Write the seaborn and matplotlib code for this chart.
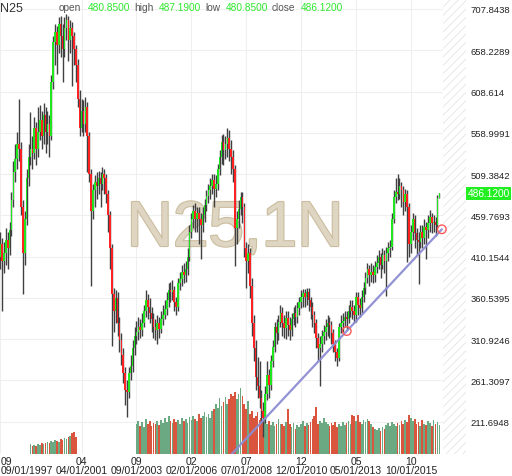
import numpy as np
import pandas as pd
import matplotlib
matplotlib.use("Agg")
import matplotlib.pyplot as plt
import matplotlib.dates as mdates
import matplotlib.patheffects as pe
import seaborn as sns

# ---------------- data ----------------
symbol = "N25"
watermark = "N25,1N"
first_month = "1997-09-01"
first_open = 410

close = [
    425, 405, 415, 430, 420, 442, 478, 512, 528, 545,
    540, 470, 415, 455, 505, 530, 540, 535, 565, 540,
    560, 575, 555, 580, 560, 570, 555, 620, 668, 680,
    665, 690, 675, 660, 685, 695, 670, 685, 675, 660,
    640, 600, 565, 585, 570, 590, 555, 510, 465, 490,
    500, 495, 505, 498, 510, 505, 485, 460, 420, 365,
    345, 360, 330, 310, 292, 270, 250, 248, 270, 279,
    300, 315, 320, 325, 322, 330, 345, 358, 350, 342,
    335, 325, 322, 330, 323, 335, 340, 347, 358, 370,
    368, 370, 355, 350, 378, 383, 392, 388, 395, 410,
    440, 455, 465, 455, 462, 455, 448, 460, 472, 483,
    490, 495, 502, 492, 498, 515, 530, 548, 538, 545,
    553, 540, 530, 515, 445, 455, 468, 482, 470, 420,
    405, 415, 375, 330, 300, 265, 255, 240, 225, 216,
    245, 268, 256, 285, 302, 325, 318, 332, 342, 330,
    324, 336, 328, 322, 335, 342, 338, 348, 355, 362,
    366, 362, 368, 358, 350, 340, 330, 312, 300, 305,
    315, 320, 326, 330, 328, 318, 305, 295, 288, 325,
    330, 333, 338, 335, 345, 350, 345, 340, 362, 352,
    348, 362, 373, 385, 395, 388, 392, 388, 398, 403,
    410, 400, 412, 405, 415, 420, 422, 455, 482, 488,
    486, 495, 490, 476, 485, 470, 425, 440, 455, 438,
    430, 428, 440, 432, 446, 442, 450, 458, 450, 452,
    448, 480.85, 486.12,
]
high = [
    440, 432, 428, 445, 440, 452, 488, 525, 545, 560,
    600, 548, 478, 465, 515, 545, 584, 555, 578, 572,
    590, 592, 585, 595, 590, 585, 580, 628, 675, 690,
    688, 698, 700, 690, 698, 702, 700, 695, 692, 680,
    665, 648, 610, 600, 598, 602, 596, 560, 515, 498,
    508, 512, 513, 512, 518, 515, 510, 490, 465, 425,
    372, 370, 368, 338, 318, 300, 278, 262, 278, 292,
    310, 325, 333, 338, 335, 342, 352, 370, 365, 360,
    350, 342, 335, 340, 338, 345, 352, 358, 368, 378,
    380, 382, 375, 362, 385, 392, 400, 402, 405, 420,
    448, 462, 472, 475, 470, 470, 462, 470, 480, 490,
    498, 505, 510, 510, 508, 522, 538, 556, 558, 555,
    565, 562, 550, 538, 520, 465, 478, 488, 488, 475,
    428, 425, 420, 385, 340, 310, 290, 285, 250, 235,
    255, 285, 275, 292, 310, 332, 335, 340, 352, 350,
    340, 345, 345, 338, 342, 350, 352, 356, 362, 370,
    371, 371, 372, 372, 362, 355, 345, 335, 318, 315,
    322, 328, 335, 340, 338, 333, 323, 310, 300, 330,
    340, 342, 345, 345, 352, 358, 358, 352, 368, 368,
    360, 370, 380, 392, 402, 400, 402, 400, 405, 412,
    418, 415, 420, 418, 422, 428, 430, 462, 490, 505,
    509, 505, 500, 495, 492, 490, 475, 448, 462, 460,
    445, 440, 448, 448, 455, 452, 460, 466, 462, 460,
    458, 484, 487.19,
]
low = [
    395, 345, 390, 400, 395, 412, 435, 470, 500, 515,
    525, 460, 365, 400, 448, 495, 520, 515, 528, 520,
    530, 550, 540, 545, 535, 545, 530, 550, 612, 640,
    630, 655, 650, 620, 650, 670, 645, 655, 615, 640,
    620, 590, 555, 560, 555, 560, 512, 500, 375, 455,
    470, 480, 485, 470, 490, 485, 475, 440, 395, 303,
    320, 330, 315, 295, 280, 258, 232, 217, 240, 262,
    272, 292, 305, 310, 312, 315, 325, 338, 335, 330,
    320, 312, 310, 305, 312, 318, 328, 335, 340, 350,
    355, 358, 345, 340, 345, 370, 375, 378, 380, 388,
    405, 432, 445, 440, 440, 425, 407, 440, 452, 465,
    475, 480, 485, 470, 482, 490, 508, 522, 520, 528,
    530, 525, 510, 500, 399, 425, 445, 460, 450, 410,
    373, 390, 360, 315, 285, 250, 240, 228, 210, 193,
    210, 238, 240, 250, 278, 295, 305, 310, 325, 315,
    312, 311, 315, 310, 315, 328, 325, 330, 340, 348,
    350, 350, 352, 345, 335, 325, 318, 300, 285, 255,
    295, 305, 310, 315, 312, 305, 295, 285, 279, 285,
    318, 320, 325, 322, 330, 338, 335, 330, 331, 340,
    338, 342, 355, 365, 378, 375, 380, 378, 380, 390,
    395, 385, 395, 390, 363, 405, 410, 418, 450, 475,
    478, 480, 470, 460, 465, 404, 410, 415, 430, 420,
    412, 377, 420, 420, 425, 407, 432, 440, 438, 440,
    435, 445, 480.85,
]

vol1_start = "1999-01-01"
vol1 = [10, 8, 9, 8, 10, 9, 11, 10, 11, 12, 11, 13, 12, 14, 13, 12, 15, 14,
        16, 15, 17, 18, 21, 22, 17]
vol2_start = "2003-09-01"
vol2 = [
    30, 33, 28, 32, 27, 35, 30, 33, 28, 31,
    30, 33, 29, 34, 31, 36, 32, 38, 33, 31,
    35, 32, 34, 30, 36, 33, 35, 31, 37, 34,
    38, 35, 33, 40, 36, 38, 42, 37, 40, 36,
    43, 45, 50, 46, 56, 48, 52, 57, 50, 55,
    60, 58, 62, 55, 60, 66, 58, 50, 45, 53,
    40, 43, 36, 38, 42, 34, 36, 32, 35, 30,
    33, 29, 32, 28, 30, 35, 30, 30, 28, 32,
    45, 30, 27, 31, 25, 29, 27, 30, 33, 28,
    31, 29, 32, 35, 38, 47, 30, 33, 31, 36,
    32, 30, 28, 31, 29, 32, 27, 30, 28, 32,
    29, 31, 33, 30, 39, 38, 33, 39, 32, 30,
    34, 32, 35, 33, 30, 27, 25, 24, 26, 23,
    27, 25, 29, 31, 28, 32, 30, 28, 31, 29,
    33, 30, 34, 32, 39, 36, 33, 35, 30, 32,
    28, 34, 30, 29, 33, 31, 28, 34, 30, 32,
    29,
]

x_tick_dates = ["1997-09-01", "2001-04-01", "2003-09-01", "2006-02-01",
                "2008-07-01", "2010-12-01", "2013-05-01", "2015-10-01"]
x_tick_labels = ["09\n09/01/1997", "04\n04/01/2001", "09\n09/01/2003",
                 "02\n02/01/2006", "07\n07/01/2008", "12\n12/01/2010",
                 "05\n05/01/2013", "10\n10/01/2015"]
y_ticks = [211.6948, 261.3097, 310.9246, 360.5395, 410.1544, 459.7693,
           509.3842, 558.9991, 608.614, 658.2289, 707.8438]
y_tick_labels = ["211.6948", "261.3097", "310.9246", "360.5395", "410.1544",
                 "459.7693", "509.3842", "558.9991", "608.614", "658.2289",
                 "707.8438"]

trend_dates = ["2007-11-13", "2017-02-10"]
trend_values = [172.9, 443.0]
touch_dates = ["2012-12-04", "2017-02-10"]
touch_values = [320.7, 443.0]

# ---------------- derived frames ----------------
dates = pd.date_range(first_month, periods=len(close), freq="MS")
opens = [first_open] + close[:-1]
df = pd.DataFrame({"date": dates, "open": opens, "high": high,
                   "low": low, "close": close})
df["x"] = mdates.date2num(df["date"])
df["up"] = df["close"] >= df["open"]

vdf = pd.concat([
    pd.DataFrame({"date": pd.date_range(vol1_start, periods=len(vol1), freq="MS"), "vol": vol1}),
    pd.DataFrame({"date": pd.date_range(vol2_start, periods=len(vol2), freq="MS"), "vol": vol2}),
])
vdf = vdf.merge(df[["date", "up"]], on="date", how="left")
vdf["up"] = vdf["up"].fillna(True).astype(bool)
vdf["x"] = mdates.date2num(vdf["date"])

# ---------------- style / layout ----------------
sns.set_theme(style="white")
plt.rcParams["font.family"] = ["Liberation Sans", "DejaVu Sans"]
plt.rcParams["hatch.linewidth"] = 0.6

W, H = 512, 477
fig = plt.figure(figsize=(W / 100, H / 100), dpi=100)
rect = [0, (H - 455) / H, 466 / W, 455 / H]
ax_bg = fig.add_axes(rect)
ax_vol = fig.add_axes(rect)
ax = fig.add_axes(rect)

px_per_day = 1.893 / 30.44
d0 = mdates.date2num(pd.Timestamp(first_month))
xlim = (d0 - 3, d0 - 3 + 466 / px_per_day)
units_per_px = 1.2022
ylim = (707.8438 - 445 * units_per_px, 707.8438 + 10 * units_per_px)

for a in (ax_bg, ax_vol, ax):
    a.set_xlim(*xlim)
    for s in a.spines.values():
        s.set_visible(False)
ax_bg.set_ylim(*ylim)
ax.set_ylim(*ylim)
ax_vol.patch.set_visible(False)
ax.patch.set_visible(False)
ax_bg.set_facecolor("white")

xt = mdates.date2num(pd.to_datetime(x_tick_dates))

# background: grid, future hatch, watermark
for v in y_ticks:
    ax_bg.axhline(v, color="#efefef", lw=0.8, zorder=0)
for v in xt:
    ax_bg.axvline(v, color="#efefef", lw=0.8, zorder=0)
hatch_start = xlim[0] + 443 / px_per_day
ax_bg.axvspan(hatch_start, xlim[1], facecolor="white", edgecolor="#e4e4e4",
              hatch="////", lw=0, zorder=1)
ax_bg.text(235 / 466, 1 - 247 / 455, watermark, transform=ax_bg.transAxes,
           ha="center", va="baseline", fontsize=46, color="#ded5c2",
           path_effects=[pe.withStroke(linewidth=1.6, foreground="#cbbd9f")],
           zorder=2)
ax_bg.set_xticks([])
ax_bg.set_yticks([])

# volume
vol_colors = np.where(vdf["up"], "#6aa982", "#d9553d")
ax_vol.bar(vdf["x"], vdf["vol"], width=27, color=vol_colors, lw=0)
ax_vol.set_ylim(0, max(vdf["vol"]) * 6.9)
ax_vol.set_xticks([])
ax_vol.set_yticks([])

# candles
ax.vlines(df["x"], df["low"], df["high"], color="#404040", lw=1.0, zorder=3)
body_bottom = np.minimum(df["open"], df["close"])
body_h = np.maximum(np.abs(df["close"] - df["open"]), 1.5)
body_colors = np.where(df["up"], "#1fe61f", "#ff2222")
ax.bar(df["x"], body_h, bottom=body_bottom, width=25, color=body_colors,
       lw=0, zorder=4)

# trend line and touch points
tdf = pd.DataFrame({"x": mdates.date2num(pd.to_datetime(trend_dates)), "y": trend_values})
sns.lineplot(data=tdf, x="x", y="y", ax=ax, color="#8c8cd2", lw=1.6,
             alpha=0.95, zorder=5)
cdf = pd.DataFrame({"x": mdates.date2num(pd.to_datetime(touch_dates)), "y": touch_values})
sns.scatterplot(data=cdf, x="x", y="y", ax=ax, s=38, facecolor="none",
                edgecolor="#ff5a5a", linewidth=1.0, zorder=6)
ax.set_xlabel("")
ax.set_ylabel("")

# ticks
ax.yaxis.tick_right()
ax.set_yticks(y_ticks, y_tick_labels)
ax.tick_params(axis="y", length=0, pad=3.4, labelsize=6.8, labelcolor="#222222")
ax.set_xticks(xt, x_tick_labels)
ax.tick_params(axis="x", length=0, pad=1.2, labelsize=7.5, labelcolor="#222222")
for i, lab in enumerate(ax.get_xticklabels()):
    lab.set_linespacing(0.95)
    if i == 0:
        lab.set_ha("left")
ax.set_xlim(*xlim)
ax.set_ylim(*ylim)

# header
last = df.iloc[-1]
fig.text(0, 1 - 11.5 / H, symbol, fontsize=9, color="#333333", va="baseline")
header = [("open", 59, "#555555"), (f"{last['open']:.4f}", 87.7, "#2ee82e"),
          ("high", 134, "#555555"), (f"{last['high']:.4f}", 159, "#2ee82e"),
          ("low", 205, "#555555"), (f"{last['low']:.4f}", 226, "#2ee82e"),
          ("close", 272, "#555555"), (f"{last['close']:.4f}", 301, "#2ee82e")]
for txt, xp, col in header:
    fig.text(xp / W, 1 - 10.8 / H, txt, fontsize=7.3, color=col, va="baseline")

# last price box
yp = 10 + (707.8438 - last["close"]) / units_per_px
fig.text(467.5 / W, 1 - yp / H, f"{last['close']:.4f}", fontsize=7.3,
         color="white", va="center", ha="left",
         bbox=dict(boxstyle="square,pad=0.12", fc="#22ee22", ec="none"))

fig.savefig("out.png", dpi=100)
